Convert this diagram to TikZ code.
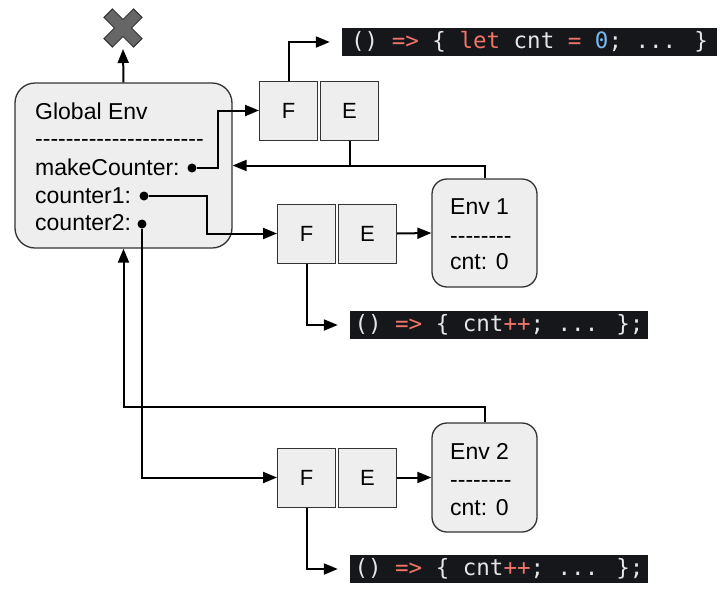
\documentclass[tikz,border=0pt]{standalone}
\usepackage{fontspec}
\setmainfont{Liberation Sans}
\newfontfamily\codefont{DejaVu Sans Mono}
\usetikzlibrary{arrows.meta,calc}
\definecolor{boxfill}{HTML}{EEEEEE}
\definecolor{boxline}{HTML}{333333}
\definecolor{codebg}{HTML}{15171B}
\definecolor{codefg}{HTML}{E6E6E6}
\definecolor{codered}{HTML}{F07468}
\definecolor{codeblue}{HTML}{7AB8F0}
\definecolor{xgray}{HTML}{666666}
\newcommand\dashrow[1]{\count255=0 \loop -\kern0pt\advance\count255 by 1 \ifnum\count255<#1\repeat}
\begin{document}
\begin{tikzpicture}[x=1pt,y=-1pt,
  envbox/.style={draw=boxline,fill=boxfill,line width=1.3pt,rounded corners=#1,inner sep=0pt},
  cell/.style={draw=boxline,fill=boxfill,line width=1pt,minimum width=58pt,minimum height=59pt,inner sep=0pt,font=\fontsize{22}{26}\selectfont},
  lbl/.style={anchor=base west,inner sep=0pt,font=\fontsize{23}{27}\selectfont},
  code/.style={fill=codebg,text=codefg,inner sep=0pt,minimum height=28pt,font=\codefont\fontsize{22.5}{28}\selectfont},
  conn/.style={line width=2pt,-{Triangle[length=14pt,width=11pt]}},
  wire/.style={line width=2pt},
  dot/.style={circle,fill=black,inner sep=0pt,minimum size=9pt}
]
\useasboundingbox (0,0) rectangle (728,600);

% Global environment
\node[envbox=20pt,minimum width=217pt,minimum height=165pt] (G) at (123.5,165.5) {};
\node[lbl] (gt) at (35,119) {Global Env};
\node[lbl] (gd) at (35,146) {\dashrow{22}};
\node[lbl] (gmc) at (35,175) {makeCounter:};
\node[lbl] (gc1) at (35,203) {counter1:};
\node[lbl] (gc2) at (35,230) {counter2:};
\node[dot] (mcdot) at (192,168) {};
\node[dot] (c1dot) at (144,196) {};
\node[dot] (c2dot) at (142,224) {};

% cross
\begin{scope}[shift={(123,28)},rotate=45]
\draw[fill=xgray,draw=boxline,line width=1pt] (6,21) -- (6,6) -- (21,6) -- (21,-6) -- (6,-6) -- (6,-21) -- (-6,-21) -- (-6,-6) -- (-21,-6) -- (-21,6) -- (-6,6) -- (-6,21) -- cycle;
\end{scope}
\coordinate (xmark) at (123,49);

% function objects
\node[cell] (F1) at (288.5,110.5) {F};
\node[cell] (E1) at (349.5,110.5) {E};
\node[cell] (F2) at (306.5,233.5) {F};
\node[cell] (E2) at (367.5,233.5) {E};
\node[cell] (F3) at (306.5,477.5) {F};
\node[cell] (E3) at (367.5,477.5) {E};

% environments
\node[envbox=15pt,minimum width=105pt,minimum height=108pt] (Env1) at (484.5,233) {};
\node[lbl] (e1t) at (450,214) {Env 1};
\node[lbl] (e1d) at (450,243) {\dashrow{8}};
\node[lbl] (e1c) at (450,269) {cnt: 0};
\node[envbox=15pt,minimum width=105pt,minimum height=109pt] (Env2) at (484.5,477.5) {};
\node[lbl] (e2t) at (450,459) {Env 2};
\node[lbl] (e2d) at (450,487) {\dashrow{8}};
\node[lbl] (e2c) at (450,515) {cnt: 0};

% code
\node[code,minimum width=375pt] (code1) at (529.5,42) {() \textcolor{codered}{=>} \{ \textcolor{codered}{let} cnt \textcolor{codered}{=} \textcolor{codeblue}{0}; ... \}};
\node[code,minimum width=298pt] (code2) at (499,325) {() \textcolor{codered}{=>} \{ cnt\textcolor{codered}{++}; ... \};};
\node[code,minimum width=298pt] (code3) at (499,569) {() \textcolor{codered}{=>} \{ cnt\textcolor{codered}{++}; ... \};};

% connectors
\draw[conn] (G.north) -- (xmark);
\draw[conn] (mcdot) -- ++(26,0) |- (F1.west);
\draw[conn] (F1.north) |- ([xshift=-12pt]code1.west);
\draw[wire] (E1.south) -- (E1.south |- G.east);
\draw[conn] (Env1.north) |- (G.east);
\draw[conn] (c1dot) -- ++(63,0) |- (F2.west);
\draw[conn] (E2.east) -- (Env1.west);
\draw[conn] (F2.south) |- ([xshift=-12pt]code2.west);
\draw[conn] (c2dot) |- (F3.west);
\draw[conn] (E3.east) -- (Env2.west);
\draw[conn] (Env2.north) -- ++(0,-15) -| (G.south);
\draw[conn] (F3.south) |- ([xshift=-12pt]code3.west);
\end{tikzpicture}
\end{document}
